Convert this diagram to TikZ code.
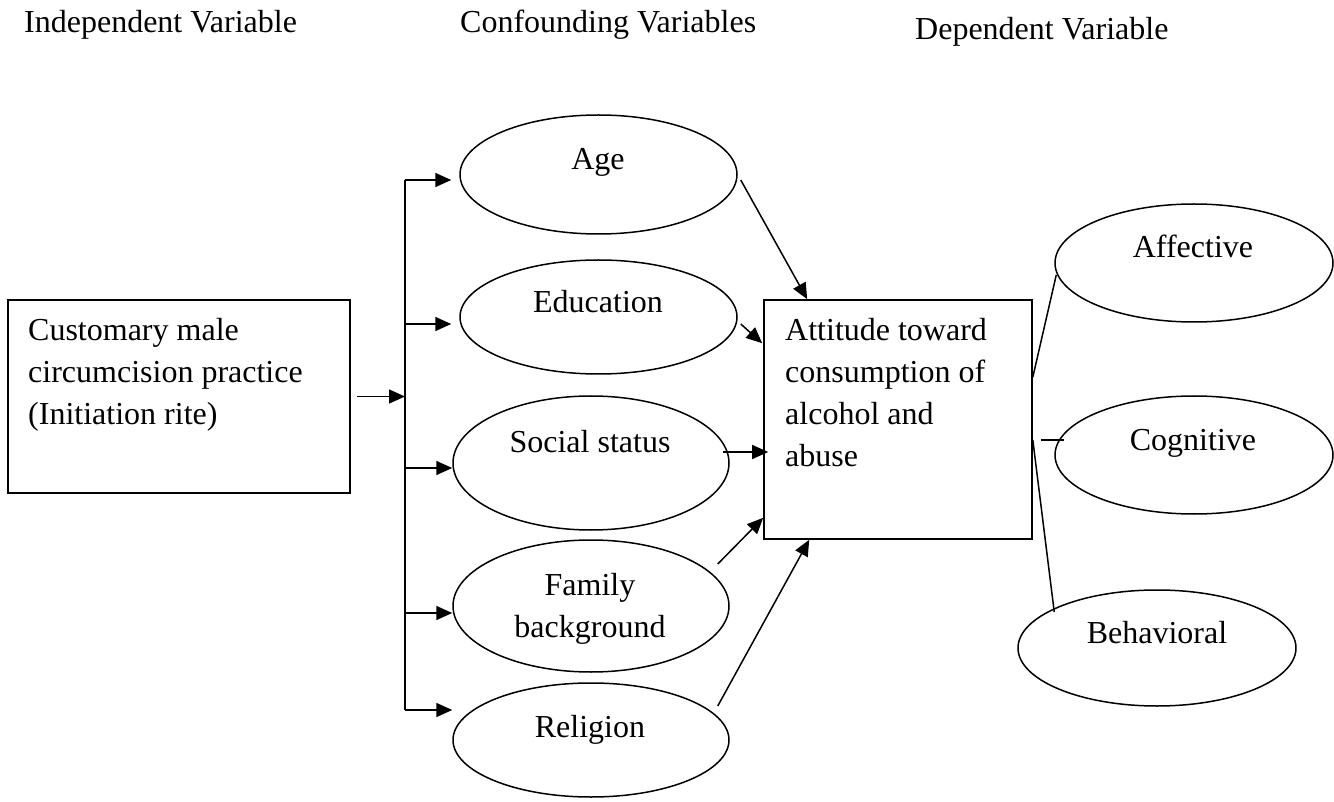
\documentclass[tikz,border=0pt]{standalone}
\usepackage{fontspec}
\setmainfont{Liberation Serif}
\usetikzlibrary{arrows.meta,calc,shapes.geometric}
\begin{document}
\begin{tikzpicture}[x=1pt,y=-1pt,font=\fontsize{32}{42}\selectfont,
  ell/.style={draw,ellipse,line width=1.5pt,inner sep=0pt,minimum width=276pt,minimum height=118pt},
  boxnode/.style={draw,rectangle,line width=1.6pt,inner sep=0pt},
  lbl/.style={inner sep=0pt,anchor=base},
  para/.style={inner sep=0pt,anchor=north west,align=left},
  arr/.style={line width=1.5pt,-{Triangle[length=16pt,width=14pt]}},
  ln/.style={line width=1.5pt}]
\useasboundingbox (0,0) rectangle (1334,802);
% titles
\node[lbl,anchor=base west] (t1) at (24,33) {Independent Variable};
\node[lbl,anchor=base west] (t2) at (460,33) {Confounding Variables};
\node[lbl,anchor=base west] (t3) at (915,40) {Dependent Variable};
% independent box
\node[boxnode,minimum width=342pt,minimum height=193pt] (iv) at (179,396.5) {};
\node[para] (ivtxt) at (28,318) {Customary male\\circumcision practice\\(Initiation rite)};
% confounding ellipses
\node[ell,minimum width=277pt,minimum height=119pt] (age) at (598.5,174.5) {};
\node[lbl] (agetxt) at (598,170) {Age};
\node[ell,minimum width=277pt,minimum height=114pt] (edu) at (598.5,317) {};
\node[lbl] (edutxt) at (598,313) {Education};
\node[ell,minimum height=134pt] (soc) at (591,463) {};
\node[lbl] (soctxt) at (590,452) {Social status};
\node[ell,minimum height=132pt] (fam) at (591,606) {};
\node[inner sep=0pt,anchor=north,align=center] (famtxt) at (590,573) {Family\\background};
\node[ell,minimum height=114pt] (rel) at (591,740) {};
\node[lbl] (reltxt) at (590,737) {Religion};
% attitude box
\node[boxnode,minimum width=268pt,minimum height=239pt] (att) at (898,419.5) {};
\node[para] (atttxt) at (785,318) {Attitude toward\\consumption of\\alcohol and\\abuse};
% dependent ellipses
\node[ell,minimum width=278pt] (aff) at (1194,263) {};
\node[lbl] (afftxt) at (1193,258) {Affective};
\node[ell,minimum width=278pt] (cog) at (1194,455) {};
\node[lbl] (cogtxt) at (1193,450) {Cognitive};
\node[ell,minimum width=278pt,minimum height=116pt] (beh) at (1157,648) {};
\node[lbl] (behtxt) at (1157,643) {Behavioral};
% bracket
\coordinate (b1) at (405,180);
\coordinate (b2) at (405,324);
\coordinate (b3) at (405,468);
\coordinate (b4) at (405,613);
\coordinate (b5) at (405,710);
\coordinate (bm) at (405,396.5);
\draw[ln,line width=1.8pt] (b1) -- (b5);
\draw[arr] ($(iv.east)+(6,0)$) -- (bm);
\draw[arr,shorten >=8pt] (b1) -- (b1 -| age.west);
\draw[arr,shorten >=8pt] (b2) -- (b2 -| edu.west);
\draw[arr] (b3) -- (b3 -| soc.west);
\draw[arr] (b4) -- (b4 -| fam.west);
\draw[arr] (b5) -- (b5 -| rel.west);
% into attitude
\draw[arr] ($(age.east)+(3,5.5)$) -- ($(att.north west)+(44,0)$);
\draw[arr] ($(edu.east)+(3,7)$) -- ($(att.north west)+(-1,44)$);
\draw[arr] ($(soc.east)+(-7,-11)$) -- ($(att.west)+(5,32.5)$);
\draw[arr] ($(fam.east)+(-12,-42)$) -- ($(att.south west)+(0,-22)$);
\draw[arr] ($(rel.east)+(-12,-34)$) -- ($(att.south west)+(46,0)$);
% to dependent
\draw[ln] ($(att.north east)+(0,78)$) -- ($(aff.west)+(2,12)$);
\draw[ln] ($(att.east)+(8,20.5)$) -- ($(cog.west)+(10,-15)$);
\draw[ln] ($(att.east)+(0,20.5)$) -- ($(beh.west)+(37,-36)$);
\end{tikzpicture}
\end{document}
